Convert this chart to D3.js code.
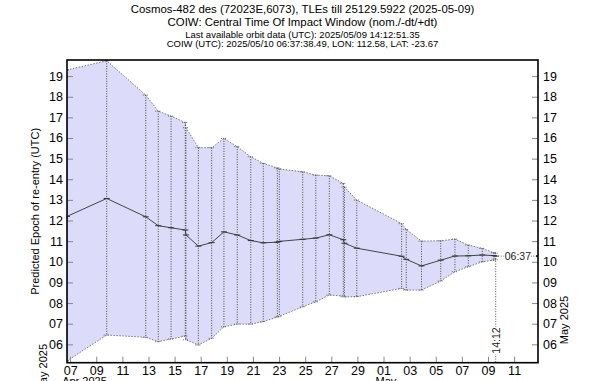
<!DOCTYPE html>
<html>
<head>
<meta charset="utf-8">
<script src="https://cdn.jsdelivr.net/npm/d3@7"></script>
<style>
  body { margin: 0; background: #fff; }
  svg { display: block; font-family: 'Liberation Sans', Arial, sans-serif; }
</style>
</head>
<body>
<svg id="chart" width="600" height="381"></svg>
<script>
// TLE epoch of each prediction (UTC)
const tleEpochs = [
  '2025-04-06T18:15Z', '2025-04-09T19:12Z', '2025-04-12T19:00Z', '2025-04-13T18:00Z',
  '2025-04-14T17:30Z', '2025-04-15T19:40Z', '2025-04-15T20:50Z', '2025-04-16T19:40Z',
  '2025-04-17T20:10Z', '2025-04-18T18:40Z', '2025-04-19T19:10Z', '2025-04-20T20:00Z',
  '2025-04-21T19:00Z', '2025-04-22T20:50Z', '2025-04-23T00:30Z', '2025-04-24T19:30Z',
  '2025-04-25T19:30Z', '2025-04-26T20:25Z', '2025-04-27T22:05Z', '2025-04-28T00:10Z',
  '2025-04-28T22:50Z', '2025-05-02T09:20Z', '2025-05-02T17:45Z', '2025-05-03T21:50Z',
  '2025-05-05T09:10Z', '2025-05-06T11:15Z', '2025-05-07T11:45Z', '2025-05-08T13:25Z',
  '2025-05-09T10:50Z', '2025-05-09T14:12Z'
];
// predicted re-entry, as day of May 2025 (nominal, -dt, +dt)
const nominal = [
  12.20, 13.07, 12.18, 11.75, 11.65, 11.54, 11.30, 10.76, 10.93, 11.45,
  11.30, 11.03, 10.92, 10.95, 10.99, 11.09, 11.15, 11.31, 11.07, 10.90,
  10.66, 10.27, 10.12, 9.80, 10.08, 10.28, 10.29, 10.33, 10.30, 10.276
];
const minusDt = [
  5.20, 6.45, 6.34, 6.13, 6.26, 6.40, 6.22, 5.97, 6.29, 6.85,
  6.98, 6.98, 7.10, 7.32, 7.36, 7.82, 8.06, 8.39, 8.34, 8.30,
  8.31, 8.71, 8.63, 8.63, 9.07, 9.52, 9.76, 10.00, 10.08, 10.10
];
const plusDt = [
  19.30, 19.74, 18.08, 17.30, 17.06, 16.75, 16.50, 15.53, 15.53, 15.98,
  15.58, 15.09, 14.77, 14.55, 14.50, 14.36, 14.20, 14.17, 13.80, 13.62,
  12.99, 11.85, 11.57, 11.00, 11.02, 11.10, 10.81, 10.65, 10.44, 10.42
];

const titleLines = [
  'Cosmos-482 des (72023E,6073), TLEs till 25129.5922 (2025-05-09)',
  'COIW: Central Time Of Impact Window (nom./-dt/+dt)',
  'Last available orbit data (UTC): 2025/05/09 14:12:51.35',
  'COIW (UTC): 2025/05/10 06:37:38.49, LON: 112.58, LAT: -23.67'
];
const xDomain = ['2025-04-06T18:15Z', '2025-05-12T19:55Z'];
const yDomain = [5.11, 19.78];
const monthLabels = [['2025-04-07T00:00Z', 'Apr 2025'], ['2025-05-01T00:00Z', 'May']];
const yLabel = 'Predicted Epoch of re-entry (UTC)';
const yMonth = 'May 2025';
const lastLabelX = '14:12', lastLabelY = '06:37';

const svg = d3.select('#chart'),
  width = +svg.attr('width'),
  height = +svg.attr('height');
const margin = { top: 60, right: 62, bottom: 18.3, left: 67 };
const iw = width - margin.left - margin.right,
  ih = height - margin.top - margin.bottom;

const data = tleEpochs.map((t, i) => ({
  t: new Date(t), c: nominal[i], lo: minusDt[i], hi: plusDt[i]
}));

const x = d3.scaleUtc().domain(xDomain.map(d => new Date(d))).range([0, iw]);
const y = d3.scaleLinear().domain(yDomain).range([ih, 0]);

// titles
const titleY = [13, 26, 37.5, 46.5];
const titleSize = [11.4, 11.4, 9.5, 9.5];
svg.append('g').selectAll('text')
  .data(titleLines)
  .enter().append('text')
  .attr('x', margin.left + iw / 2)
  .attr('y', (d, i) => titleY[i])
  .attr('text-anchor', 'middle')
  .attr('font-size', (d, i) => titleSize[i] + 'px')
  .text(d => d);

const g = svg.append('g').attr('transform', `translate(${margin.left},${margin.top})`);

g.append('clipPath').attr('id', 'clip')
  .append('rect').attr('width', iw).attr('height', ih);

const plot = g.append('g').attr('clip-path', 'url(#clip)');

// uncertainty window band
plot.append('path')
  .datum(data)
  .attr('fill', '#dcdcfa')
  .attr('d', d3.area().x(d => x(d.t)).y0(d => y(d.lo)).y1(d => y(d.hi)));

['lo', 'hi'].forEach(k => {
  plot.append('path')
    .datum(data)
    .attr('fill', 'none')
    .attr('stroke', '#777')
    .attr('stroke-width', 1)
    .attr('stroke-dasharray', '1.5,1.5')
    .attr('d', d3.line().x(d => x(d.t)).y(d => y(d[k])));
});

// window bars
plot.append('g').selectAll('line')
  .data(data)
  .enter().append('line')
  .attr('x1', d => x(d.t)).attr('x2', d => x(d.t))
  .attr('y1', d => y(d.hi)).attr('y2', d => y(d.lo))
  .attr('stroke', '#444')
  .attr('stroke-dasharray', '1,1.5');

['lo', 'hi'].forEach(k => {
  plot.append('g').selectAll('line')
    .data(data)
    .enter().append('line')
    .attr('x1', d => x(d.t) - 3).attr('x2', d => x(d.t) + 3)
    .attr('y1', d => y(d[k])).attr('y2', d => y(d[k]))
    .attr('stroke', '#666')
    .attr('stroke-dasharray', '1,1');
});

// nominal line + markers
plot.append('path')
  .datum(data)
  .attr('fill', 'none')
  .attr('stroke', '#444')
  .attr('stroke-width', 1)
  .attr('d', d3.line().x(d => x(d.t)).y(d => y(d.c)));

plot.append('g').selectAll('line')
  .data(data)
  .enter().append('line')
  .attr('x1', d => x(d.t) - 3).attr('x2', d => x(d.t) + 3)
  .attr('y1', d => y(d.c)).attr('y2', d => y(d.c))
  .attr('stroke', '#333');

// last orbit data / COIW markers
const last = data[data.length - 1];
g.append('line')
  .attr('x1', x(last.t)).attr('x2', x(last.t))
  .attr('y1', y(last.c)).attr('y2', ih)
  .attr('stroke', '#555').attr('stroke-dasharray', '1,1.5');
g.append('line')
  .attr('x1', x(last.t)).attr('x2', iw)
  .attr('y1', y(last.c)).attr('y2', y(last.c))
  .attr('stroke', '#555').attr('stroke-dasharray', '1,1.5');
g.append('rect')
  .attr('x', iw - 2).attr('y', y(last.c) - 1).attr('width', 2).attr('height', 2)
  .attr('fill', '#222');

g.append('text')
  .attr('transform', `translate(${x(last.t) + 4},${ih - 9}) rotate(-90)`)
  .attr('font-size', '10.5px')
  .attr('fill', '#222')
  .attr('stroke', '#fff').attr('stroke-width', 3).attr('paint-order', 'stroke')
  .text(lastLabelX);
g.append('text')
  .attr('x', iw - 7).attr('y', y(last.c) + 4)
  .attr('text-anchor', 'end')
  .attr('font-size', '10.5px')
  .attr('fill', '#222')
  .attr('stroke', '#fff').attr('stroke-width', 3).attr('paint-order', 'stroke')
  .text(lastLabelY);

// axes, ticks pointing inside
const tickStyle = sel => {
  sel.select('.domain').remove();
  sel.selectAll('.tick line').attr('stroke', '#888');
  sel.selectAll('.tick text').attr('fill', '#000');
  sel.attr('font-family', null).attr('font-size', '12.5px');
};

g.append('g')
  .attr('transform', `translate(0,${ih})`)
  .call(d3.axisBottom(x).ticks(d3.utcDay.every(2)).tickFormat(d3.utcFormat('%d'))
    .tickSize(-6).tickPadding(3.5))
  .call(tickStyle);

g.append('g')
  .call(d3.axisLeft(y).ticks(14).tickFormat(d3.format('02d')).tickSize(-6).tickPadding(4))
  .call(tickStyle);

g.append('g')
  .attr('transform', `translate(${iw},0)`)
  .call(d3.axisRight(y).ticks(14).tickFormat(d3.format('02d')).tickSize(-6).tickPadding(5))
  .call(tickStyle);

g.append('g').selectAll('text')
  .data(monthLabels)
  .enter().append('text')
  .attr('x', d => x(new Date(d[0])) - 8)
  .attr('y', ih + 22.5)
  .attr('font-size', '11px')
  .text(d => d[1]);

// frame
g.append('rect')
  .attr('width', iw).attr('height', ih)
  .attr('fill', 'none')
  .attr('stroke', '#000')
  .attr('stroke-width', 1.6);

// axis titles
svg.append('text')
  .attr('transform', `translate(39,${margin.top + ih / 2}) rotate(-90)`)
  .attr('text-anchor', 'middle')
  .attr('font-size', '11px')
  .text(yLabel);

svg.append('text')
  .attr('transform', `translate(47,344) rotate(-90)`)
  .attr('text-anchor', 'end')
  .attr('font-size', '11px')
  .text(yMonth);

svg.append('text')
  .attr('transform', `translate(568,320) rotate(-90)`)
  .attr('text-anchor', 'middle')
  .attr('font-size', '11px')
  .text(yMonth);
</script>
</body>
</html>
